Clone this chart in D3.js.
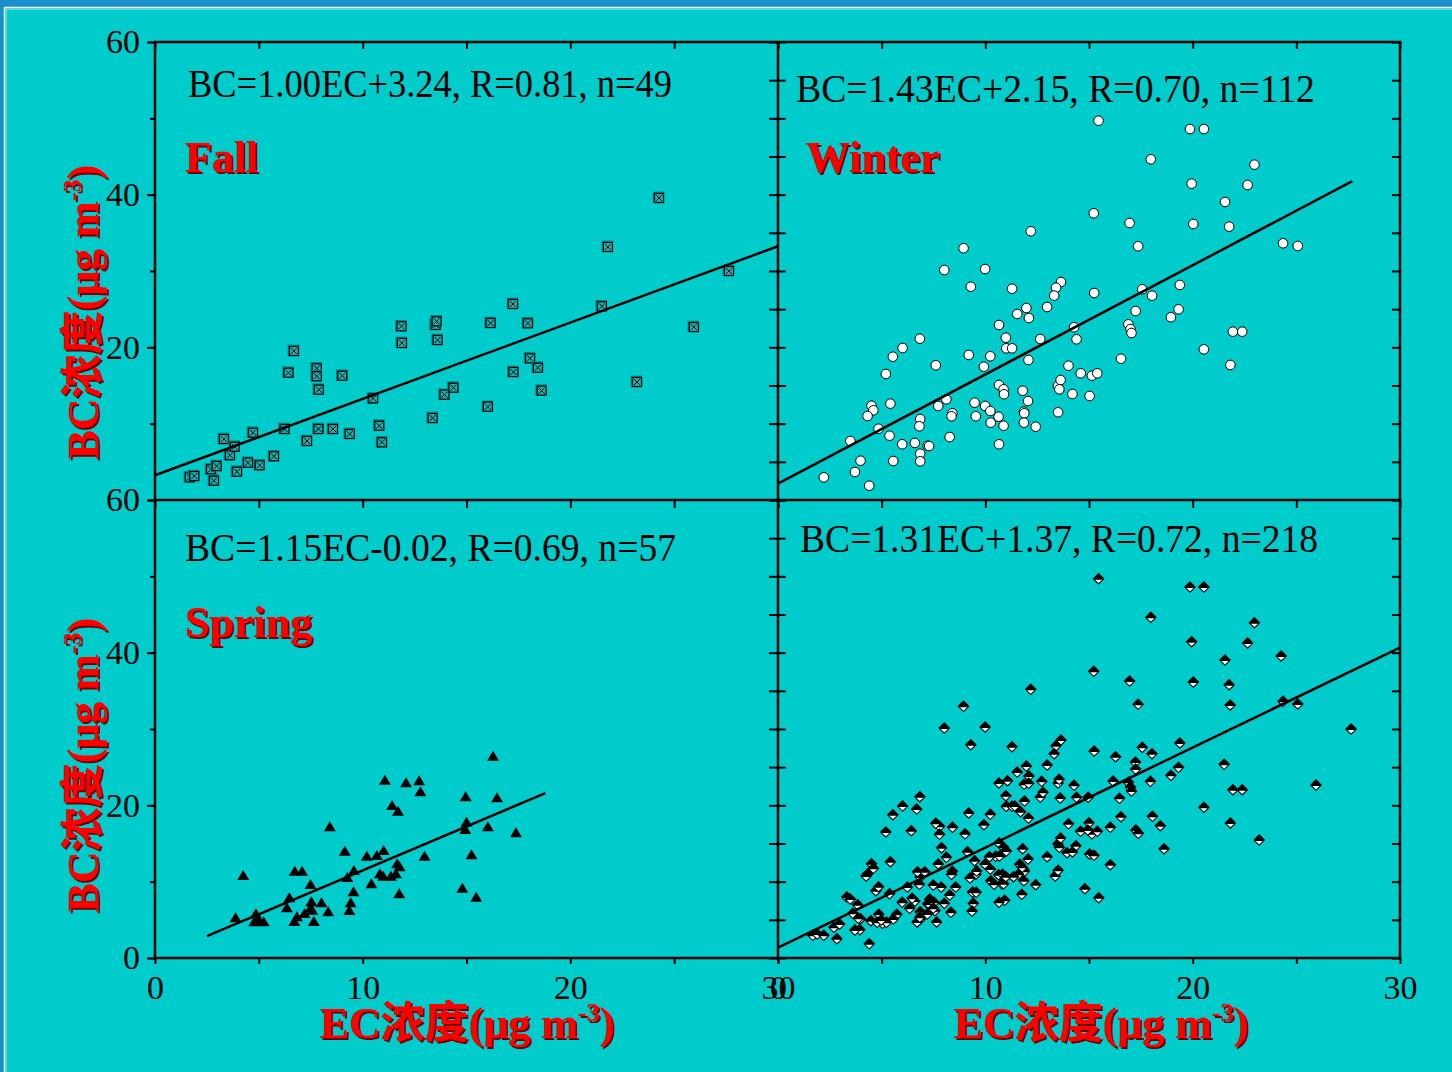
<!DOCTYPE html>
<html>
<head>
<meta charset="utf-8">
<script src="https://cdn.jsdelivr.net/npm/d3@7"></script>
<style>
  body { margin: 0; background: #00cccc; }
  svg { display: block; }
</style>
</head>
<body>
<svg id="chart"></svg>
<script>
// BC vs EC scatter, four panels (Fall / Winter / Spring / all seasons)

const fallEC = [1.68,1.89,2.70,2.84,2.97,3.32,3.61,3.84,3.95,4.48,4.72,5.04,5.73,6.24,6.43,6.69,7.32,7.79,7.79,7.89,
  7.87,8.57,9.02,9.38,10.50,10.80,10.93,11.87,11.89,13.37,13.51,13.56,13.61,13.94,14.37,16.03,16.16,17.24,17.26,17.96,
  18.06,18.44,18.62,21.52,23.21,25.95,27.64,21.81,24.27];
const fallBC = [2.97,3.14,4.02,2.53,4.45,7.99,5.86,6.98,3.71,4.89,8.82,4.55,5.73,9.30,16.68,19.52,7.73,17.25,16.21,14.45,
  9.30,9.30,16.28,8.65,13.32,9.73,7.56,22.76,20.57,10.74,22.93,23.41,20.96,13.80,14.71,12.22,23.19,25.68,16.77,23.15,
  18.56,17.33,14.32,25.38,15.46,22.66,30.00,33.15,39.57];

const winterEC = [15.46,19.87,20.54,17.98,22.98,19.95,22.65,21.56,15.23,16.96,20.03,21.76,12.19,17.37,24.36,25.07,8.95,
  8.02,9.99,9.30,11.29,13.65,13.41,13.32,15.25,17.57,18.04,19.38,19.32,18.95,17.25,16.90,17.00,17.05,21.94,22.39,20.54,
  21.82,16.54,11.98,11.54,12.10,12.98,10.66,10.99,11.01,11.29,12.65,14.28,14.40,12.08,10.24,9.20,9.93,7.61,6.84,6.01,
  5.54,5.20,14.01,14.60,15.14,15.40,10.66,10.88,10.90,11.80,13.50,13.63,13.57,14.20,15.03,12.06,13.51,8.12,7.73,4.51,
  4.60,4.32,5.42,4.85,3.49,3.98,3.71,2.21,4.40,5.38,5.56,5.99,6.60,6.86,6.82,6.86,6.86,7.22,7.29,8.28,
  8.41,8.37,9.48,9.54,9.99,10.24,10.26,10.64,10.88,10.66,11.86,11.88,11.86,12.43];
const winterBC = [49.69,48.60,48.60,44.63,43.93,41.44,41.27,39.04,37.56,36.29,36.16,35.81,35.20,33.24,33.63,33.28,32.98,
  30.13,30.26,27.94,27.68,28.56,27.81,26.77,27.12,27.60,26.77,28.17,24.98,23.94,24.76,23.02,22.40,21.88,22.05,22.05,19.74,
  17.69,18.51,25.15,24.37,23.84,25.28,22.93,21.26,19.87,19.87,21.09,22.63,21.05,18.34,18.83,19.00,17.46,17.65,21.13,19.91,
  18.77,16.51,17.59,16.60,16.28,16.60,15.07,14.50,13.85,14.32,14.94,15.72,14.50,13.89,13.63,12.97,11.49,13.19,12.32,12.35,
  11.75,11.00,12.62,9.34,7.73,5.15,3.67,2.97,1.87,8.42,5.11,7.30,7.47,10.61,9.66,6.07,5.07,7.11,7.07,8.25,
  11.36,10.97,12.75,10.97,12.32,11.66,10.13,10.91,9.73,7.30,11.57,11.36,10.13,9.60];

const springEC = [16.28,11.07,12.09,12.72,12.78,11.42,11.70,14.96,16.47,8.42,15.00,14.94,16.03,17.38,9.14,10.20,10.68,
  11.01,12.98,15.24,11.66,11.78,11.60,10.83,10.99,11.36,9.58,9.26,4.25,6.73,7.08,7.49,10.42,9.56,11.76,14.80,15.47,
  6.47,6.35,7.53,8.02,7.57,8.34,9.42,9.36,7.20,6.71,6.84,7.65,4.86,4.78,5.23,3.88,4.98,7.49];
const springBC = [26.37,23.23,22.89,23.15,21.71,19.91,19.17,21.05,20.92,17.12,17.73,16.77,17.12,16.34,13.93,13.27,13.36,
  14.02,13.27,13.45,12.28,11.88,10.97,10.97,10.65,10.65,11.40,10.48,10.74,11.31,11.31,9.56,9.66,8.61,8.35,9.08,7.90,
  7.82,6.51,7.30,7.17,6.20,5.99,7.17,6.16,5.76,4.72,5.33,4.72,5.73,4.68,4.68,5.20,4.98,6.51];

// all-season panel = every sample of the three seasons
const allEC = [...fallEC, ...winterEC, ...springEC];
const allBC = [...fallBC, ...winterBC, ...springBC];

// fitted lines: slope, intercept, EC range the line is drawn over
const fitSlope = [1.00, 1.43, 1.15, 1.31];
const fitIntercept = [3.24, 2.15, -0.02, 1.37];
const fitRange = [[0, 30], [0, 27.7], [2.5, 18.8], [0, 30]];
const equations = [
  'BC=1.00EC+3.24, R=0.81, n=49',
  'BC=1.43EC+2.15, R=0.70, n=112',
  'BC=1.15EC-0.02, R=0.69, n=57',
  'BC=1.31EC+1.37, R=0.72, n=218'
];
const seasons = ['Fall', 'Winter', 'Spring', ''];

const W = 1452, H = 1072;
const SERIF = '"Liberation Serif","Times New Roman",serif';
const LABEL_FONT = '"Liberation Serif","Noto Sans CJK SC",serif';

const svg = d3.select('#chart').attr('width', W).attr('height', H);

// slide background + blue border
svg.append('rect').attr('width', W).attr('height', H).attr('fill', '#00cccc');
svg.append('rect').attr('width', W).attr('height', 7).attr('fill', '#1b8fcb');
svg.append('rect').attr('width', 4).attr('height', H).attr('fill', '#1b8fcb');
svg.append('path').attr('d', `M${W},7.5H4.5V${H}`).attr('fill', 'none')
  .attr('stroke', '#e8f5f7').attr('stroke-width', 1.5);
svg.append('path').attr('d', `M${W},9.2H6.2V${H}`).attr('fill', 'none')
  .attr('stroke', '#a6d6da').attr('stroke-width', 1);

const xL = d3.scaleLinear().domain([0, 30]).range([155, 778]);
const xR = d3.scaleLinear().domain([0, 30]).range([778, 1400]);
const yT = d3.scaleLinear().domain([0, 60]).range([500, 42]);
const yB = d3.scaleLinear().domain([0, 60]).range([958, 500]);

const panels = [
  { x: xL, y: yT, ec: fallEC,   bc: fallBC,   marker: 'square',  eq: [188, 97, 484],  season: [185, 172] },
  { x: xR, y: yT, ec: winterEC, bc: winterBC, marker: 'circle',  eq: [796, 102, 519], season: [806, 172] },
  { x: xL, y: yB, ec: springEC, bc: springBC, marker: 'triangle', eq: [185, 561, 491], season: [185, 637] },
  { x: xR, y: yB, ec: allEC,    bc: allBC,    marker: 'diamond', eq: [800, 552, 518], season: null }
];

// ---------- axes ----------
const five = d3.range(0, 31, 5);
const yFive = d3.range(0, 61, 5);
const yTen = d3.range(0, 61, 10);

function axis(gen, transform, size, values, fmt, pad) {
  const g = svg.append('g').attr('transform', transform)
    .call(gen.tickValues(values).tickSize(size).tickSizeOuter(0)
      .tickPadding(pad || 0).tickFormat(fmt || (() => '')));
  g.select('.domain').remove();
  g.attr('font-family', SERIF).attr('font-size', 34);
  g.selectAll('line').attr('stroke', '#000').attr('stroke-width', 2);
  g.selectAll('text').attr('fill', '#000');
  return g;
}

// left outer axis
axis(d3.axisLeft(yT), 'translate(155,0)', 5, yTen);
axis(d3.axisLeft(yT), 'translate(155,0)', 8, [20, 40, 60], d => d, 7);
axis(d3.axisLeft(yB), 'translate(155,0)', 5, yTen);
axis(d3.axisLeft(yB), 'translate(155,0)', 8, [0, 20, 40, 60], d => d, 7);
// middle vertical divider: ticks on both sides
[yT, yB].forEach(y => {
  axis(d3.axisRight(y), 'translate(778,0)', -9, yFive);
  axis(d3.axisLeft(y), 'translate(778,0)', -8, yFive);
  axis(d3.axisRight(y), 'translate(1400,0)', -8, yFive);
});
// top, middle and bottom x axes
[xL, xR].forEach(x => {
  axis(d3.axisTop(x), 'translate(0,42)', -7, five);
  axis(d3.axisBottom(x), 'translate(0,500)', 8, five);
  axis(d3.axisBottom(x), 'translate(0,958)', 6, five, d => d % 10 === 0 ? d : '', 11);
});

// frame
svg.append('rect').attr('x', 155).attr('y', 42).attr('width', 1245).attr('height', 916)
  .attr('fill', 'none').attr('stroke', '#000').attr('stroke-width', 2.5);
svg.append('line').attr('x1', 778).attr('x2', 778).attr('y1', 42).attr('y2', 958)
  .attr('stroke', '#000').attr('stroke-width', 2.5);
svg.append('line').attr('x1', 155).attr('x2', 1400).attr('y1', 500).attr('y2', 500)
  .attr('stroke', '#000').attr('stroke-width', 2.5);

// ---------- markers ----------
function drawMarker(g, type) {
  if (type === 'square') {
    g.append('rect').attr('x', -5.5).attr('y', -5.5).attr('width', 10).attr('height', 10)
      .attr('fill', 'none').attr('stroke', '#0c7f80').attr('stroke-width', 1.6);
    g.append('rect').attr('x', -4.5).attr('y', -4.5).attr('width', 9).attr('height', 9)
      .attr('fill', '#12b4b4').attr('stroke', '#000').attr('stroke-width', 1.2);
    g.append('path').attr('d', 'M-3,-3L3,3M3,-3L-3,3').attr('stroke', '#000').attr('stroke-width', 1);
  } else if (type === 'circle') {
    g.append('circle').attr('r', 4.8).attr('fill', '#fff').attr('stroke', '#000').attr('stroke-width', 1);
  } else if (type === 'triangle') {
    g.append('path').attr('d', 'M0,-6L6,4L-6,4Z').attr('fill', '#000');
  } else {
    g.append('path').attr('d', 'M0,-6L6,0L0,6L-6,0Z').attr('fill', '#000');
    g.append('path').attr('d', 'M-3.6,1L3.6,1L0,4.4Z').attr('fill', '#fff');
  }
}

panels.forEach((p, i) => {
  const pts = p.ec.map((e, k) => ({ ec: e, bc: p.bc[k] }));
  svg.append('g').selectAll('g')
    .data(pts)
    .enter()
    .append('g')
    .attr('transform', d => `translate(${p.x(d.ec)},${p.y(d.bc)})`)
    .each(function () { drawMarker(d3.select(this), p.marker); });

  // regression line
  const line = d3.line().x(d => p.x(d)).y(d => p.y(fitSlope[i] * d + fitIntercept[i]));
  svg.append('path').attr('d', line(fitRange[i]))
    .attr('fill', 'none').attr('stroke', '#000').attr('stroke-width', 2.5);

  // equation
  svg.append('text').attr('x', p.eq[0]).attr('y', p.eq[1])
    .attr('textLength', p.eq[2]).attr('lengthAdjust', 'spacingAndGlyphs')
    .attr('font-family', SERIF).attr('font-size', 40).attr('fill', '#000')
    .text(equations[i]);

  // season name, red with dark shadow
  if (p.season) {
    [[2, 2, '#6e0000'], [0, 0, '#ff0000']].forEach(([dx, dy, c]) => {
      svg.append('text').attr('x', p.season[0] + dx).attr('y', p.season[1] + dy)
        .attr('font-family', SERIF).attr('font-weight', 'bold').attr('font-size', 44)
        .attr('fill', c).text(seasons[i]);
    });
  }
});

// ---------- axis titles ----------
function redTitle(x, y, rot, prefix) {
  [[2, 2, '#6e0000'], [0, 0, '#ff0000']].forEach(([dx, dy, c]) => {
    const t = svg.append('text')
      .attr('transform', `translate(${x + dx},${y + dy}) rotate(${rot})`)
      .attr('text-anchor', 'middle')
      .attr('font-family', LABEL_FONT).attr('font-weight', 'bold').attr('font-size', 44)
      .attr('fill', c);
    t.append('tspan').text(prefix + '浓度(μg m');
    t.append('tspan').attr('dy', -17).attr('font-size', 26).text('-3');
    t.append('tspan').attr('dy', 17).text(')');
  });
}

redTitle(98, 312, -90, 'BC');
redTitle(98, 765, -90, 'BC');
redTitle(467, 1038, 0, 'EC');
redTitle(1101, 1038, 0, 'EC');
</script>
</body>
</html>
